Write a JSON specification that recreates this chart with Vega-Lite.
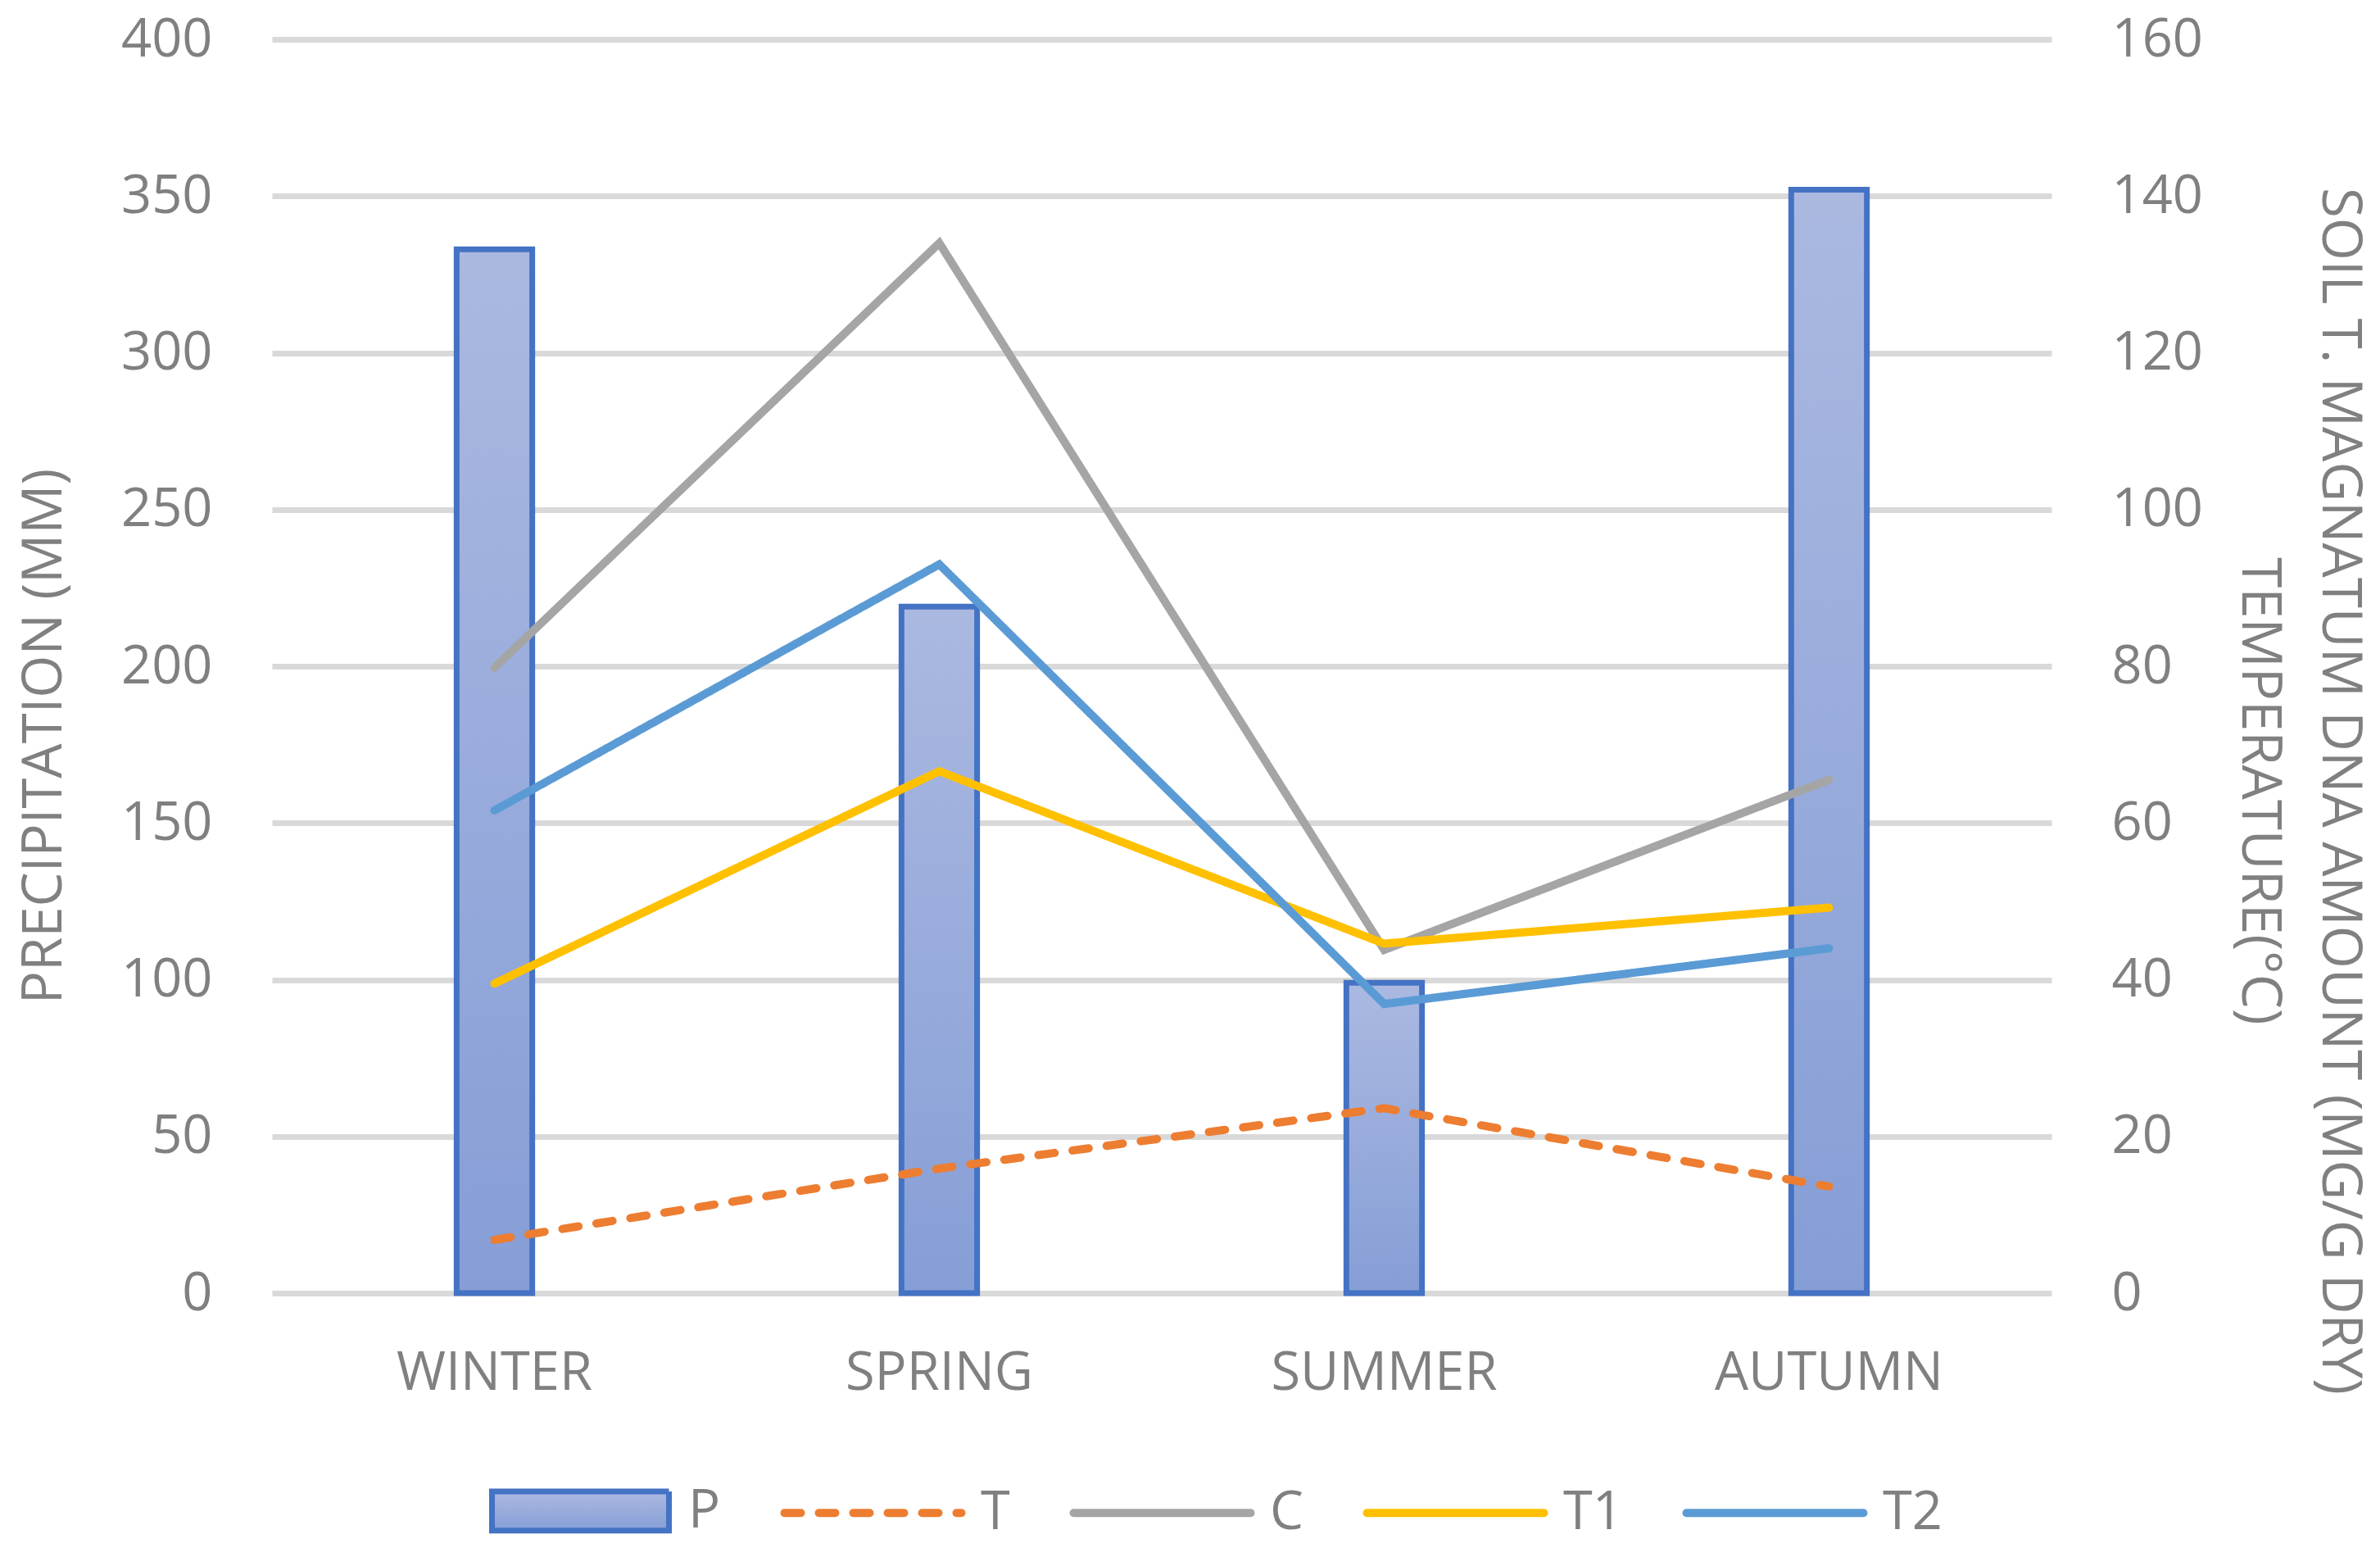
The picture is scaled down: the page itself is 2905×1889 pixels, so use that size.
{
  "$schema": "https://vega.github.io/schema/vega-lite/v6.json",
  "width": 2172,
  "height": 1530,
  "autosize": {"type": "none"},
  "padding": {"left": 332, "top": 48, "right": 401, "bottom": 311},
  "background": "white",
  "config": {
    "view": {"stroke": null},
    "font": "Open Sans",
    "axis": {
      "labelFont": "Open Sans",
      "labelFontSize": 65,
      "labelColor": "#808080",
      "labelLimit": 1000,
      "titleFont": "Open Sans",
      "titleFontSize": 67,
      "titleColor": "#808080",
      "titleFontWeight": "normal",
      "titleLimit": 3000,
      "domain": false,
      "ticks": false,
      "tickSize": 0
    }
  },
  "data": {
    "values": [
      {"season": "WINTER", "series": "P", "value": 333},
      {"season": "SPRING", "series": "P", "value": 219},
      {"season": "SUMMER", "series": "P", "value": 99},
      {"season": "AUTUMN", "series": "P", "value": 352},
      {"season": "WINTER", "series": "T", "value": 6.8},
      {"season": "SPRING", "series": "T", "value": 15.9},
      {"season": "SUMMER", "series": "T", "value": 23.6},
      {"season": "AUTUMN", "series": "T", "value": 13.6},
      {"season": "WINTER", "series": "C", "value": 79.8},
      {"season": "SPRING", "series": "C", "value": 134},
      {"season": "SUMMER", "series": "C", "value": 43.8},
      {"season": "AUTUMN", "series": "C", "value": 65.5},
      {"season": "WINTER", "series": "T1", "value": 39.5},
      {"season": "SPRING", "series": "T1", "value": 66.6},
      {"season": "SUMMER", "series": "T1", "value": 44.6},
      {"season": "AUTUMN", "series": "T1", "value": 49.2},
      {"season": "WINTER", "series": "T2", "value": 61.6},
      {"season": "SPRING", "series": "T2", "value": 93},
      {"season": "SUMMER", "series": "T2", "value": 36.9},
      {"season": "AUTUMN", "series": "T2", "value": 44}
    ]
  },
  "encoding": {
    "x": {
      "field": "season",
      "type": "nominal",
      "sort": ["WINTER", "SPRING", "SUMMER", "AUTUMN"],
      "scale": {"paddingInner": 0, "paddingOuter": 0},
      "axis": {"title": null, "labelAngle": 0, "labelPadding": 66, "labelBaseline": "top", "grid": false}
    },
    "stroke": {
      "field": "series",
      "type": "nominal",
      "scale": {
        "domain": ["P", "T", "C", "T1", "T2"],
        "range": ["#4472c4", "#ed7d31", "#a5a5a5", "#ffc000", "#5b9bd5"]
      },
      "legend": {
        "orient": "none",
        "legendX": 344,
        "legendY": 1763,
        "direction": "horizontal",
        "title": null,
        "symbolType": "stroke",
        "symbolSize": 46656,
        "symbolStrokeWidth": 10,
        "labelFont": "Open Sans",
        "labelFontSize": 65,
        "labelColor": "#808080",
        "labelOffset": 99,
        "columnPadding": 57,
        "encode": {
          "symbols": {
            "update": {
              "shape": {"signal": "datum.value === 'P' ? 'M-1,-0.22H1V0.22H-1Z' : 'M-1,0H1'"},
              "fill": {"signal": "datum.value === 'P' ? {gradient: 'linear', x1: 0, y1: 0, x2: 0, y2: 1, stops: [{offset: 0, color: '#abb9e1'}, {offset: 1, color: '#869ed6'}]} : 'transparent'"},
              "strokeWidth": {"signal": "datum.value === 'P' ? 7 : 10"},
              "strokeDash": {"signal": "datum.value === 'T' ? [20, 22] : [1, 0]"},
              "strokeCap": {"signal": "datum.value === 'P' ? 'butt' : 'round'"}
            }
          }
        }
      }
    }
  },
  "layer": [
    {
      "transform": [{"filter": "datum.series === 'P'"}],
      "mark": {
        "type": "bar",
        "width": {"band": 0.17},
        "strokeWidth": 7,
        "fill": {
          "gradient": "linear",
          "x1": 0, "y1": 0, "x2": 0, "y2": 1,
          "stops": [
            {"offset": 0, "color": "#abb9e1"},
            {"offset": 1, "color": "#869ed6"}
          ]
        }
      },
      "encoding": {
        "y": {
          "field": "value",
          "type": "quantitative",
          "scale": {"domain": [0, 400]},
          "axis": {
            "orient": "left",
            "values": [0, 50, 100, 150, 200, 250, 300, 350, 400],
            "grid": true,
            "gridColor": "#d9d9d9",
            "gridWidth": 7,
            "labelPadding": 73,
            "title": "PRECIPITATION (MM)",
            "titleAngle": -90,
            "titleX": -278,
            "titleY": 850,
            "titleBaseline": "middle",
            "titleAlign": "center"
          }
        }
      }
    },
    {
      "transform": [{"filter": "datum.series !== 'P'"}],
      "mark": {"type": "line", "strokeWidth": 10, "strokeJoin": "miter", "strokeCap": "round"},
      "encoding": {
        "y": {
          "field": "value",
          "type": "quantitative",
          "scale": {"domain": [0, 160]},
          "axis": {
            "orient": "right",
            "values": [0, 20, 40, 60, 80, 100, 120, 140, 160],
            "grid": false,
            "labelPadding": 73,
            "title": ["SOIL T. MAGNATUM DNA AMOUNT (MG/G DRY)", "TEMPERATURE(°C)"],
            "titleAngle": 90,
            "titleX": 350,
            "titleY": 917,
            "titleBaseline": "middle",
            "titleAlign": "center",
            "titleLineHeight": 98
          }
        },
        "strokeDash": {
          "condition": {"test": "datum.series === 'T'", "value": [20, 22]},
          "value": [1, 0]
        }
      }
    }
  ],
  "resolve": {"scale": {"y": "independent"}}
}
